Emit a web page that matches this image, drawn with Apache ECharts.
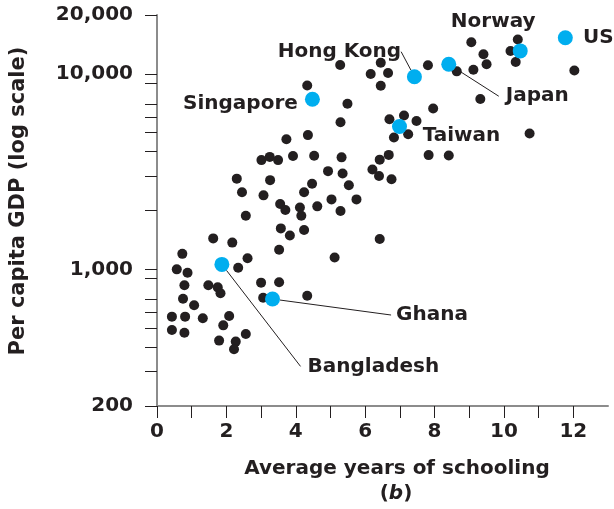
<!DOCTYPE html>
<html>
<head>
<meta charset="utf-8">
<script src="https://cdn.jsdelivr.net/npm/echarts@6/dist/echarts.min.js"></script>
<style>
  html, body { margin: 0; padding: 0; background: #fff; }
  #chart { width: 614px; height: 509px; }
</style>
</head>
<body>
<div id="chart"></div>
<script>
// other countries: years of schooling / per capita GDP
var schoolingOther = [5.28, 6.45, 6.16, 6.66, 6.45, 4.33, 5.49, 5.29, 4.35, 3.73,
  3.01, 3.25, 3.49, 3.92, 4.53, 5.32, 6.42, 6.68, 6.21, 6.40,
  6.76, 4.93, 5.35, 2.30, 3.26, 2.45, 3.07, 4.24, 4.47, 5.53,
  5.03, 5.75, 3.55, 3.70, 4.12, 4.16, 4.62, 5.29, 2.56, 3.57,
  3.83, 4.24, 1.62, 2.17, 3.52, 6.42, 0.73, 2.61, 5.12, 0.57,
  0.88, 2.34, 0.79, 1.48, 1.75, 1.83, 3.00, 3.52, 0.75, 1.07,
  3.06, 4.33, 0.43, 0.81, 1.32, 2.08, 1.91, 0.43, 0.79, 1.79,
  2.27, 2.22, 2.56, 7.81, 7.96, 6.70, 7.12, 7.48, 6.83, 7.24,
  7.83, 8.41, 9.06, 10.40, 10.19, 9.41, 9.50, 10.34, 9.12, 8.64,
  12.03, 9.32, 10.74];
var gdpOther = [11100, 11400, 9980, 10100, 8690, 8720, 7030, 5660, 4860, 4630,
  3620, 3760, 3620, 3800, 3810, 3740, 3640, 3850, 3240, 3000,
  2890, 3180, 3090, 2910, 2860, 2480, 2390, 2480, 2740, 2690,
  2280, 2280, 2160, 2010, 2070, 1880, 2100, 1990, 1880, 1620,
  1490, 1590, 1440, 1370, 1260, 1430, 1200, 1140, 1150, 1000,
  961, 1020, 830, 829, 809, 754, 855, 859, 707, 655,
  716, 733, 573, 573, 562, 577, 517, 490, 474, 432,
  427, 390, 467, 11060, 6650, 5860, 6120, 5740, 4730, 4910,
  3840, 3820, 14500, 15000, 13100, 12600, 11200, 11500, 10500, 10300,
  10400, 7430, 4950];

// highlighted countries
var highlightNames = ['Singapore', 'Hong Kong', 'Japan', 'Norway', 'US', 'Taiwan', 'Bangladesh', 'Ghana'];
var highlightSchooling = [4.48, 7.42, 8.41, 10.47, 11.77, 6.99, 1.87, 3.33];
var highlightGdp = [7410, 9670, 11200, 13100, 15300, 5380, 1060, 705];

// axis ticks
var yLabelValues = [200, 1000, 10000, 20000];
var yTickValues = [200, 300, 400, 500, 600, 700, 900, 1000, 2000, 3000, 4000, 5000, 6000, 7000, 9000, 10000, 20000];

// label placement (offset from point, leader line on/off, padding)
var labelDx = [-72, -75, 85, -27, 33, 62, 148, 157];
var labelDy = [4, -25, 32, -29, 0, 9, 102, 16];
var labelLeader = [false, true, true, false, false, false, true, true];
var labelPad = [[0, 0, 0, 0], [0, 0, 25, 0], [0, 0, 0, 7], [0, 0, 0, 0], [0, 0, 0, 0], [0, 0, 0, 0], [0, 0, 0, 7], [0, 0, 0, 5]];

var FONT = 'DejaVu Sans';
var INK = '#231f20';

var otherData = schoolingOther.map(function (x, i) { return [x, gdpOther[i]]; });
var highlightData = highlightNames.map(function (name, i) {
  return {
    name: name,
    value: [highlightSchooling[i], highlightGdp[i]],
    label: { padding: labelPad[i] },
    labelLine: { show: labelLeader[i] }
  };
});

var chart = echarts.init(document.getElementById('chart'), null, { renderer: 'canvas' });
chart.setOption({
  animation: false,
  grid: { left: 157, right: 6, top: 15, bottom: 103 },
  xAxis: {
    type: 'value',
    min: 0,
    max: 13,
    interval: 1,
    axisLine: { onZero: false, lineStyle: { color: '#8c8c8c', width: 2 } },
    axisTick: { length: 12, lineStyle: { color: INK } },
    axisLabel: {
      margin: 16,
      showMaxLabel: false,
      color: INK,
      fontFamily: FONT,
      fontWeight: 'bold',
      fontSize: 20,
      formatter: function (v) { return (v % 2 === 0 && v < 13) ? String(v) : ''; }
    },
    splitLine: { show: false }
  },
  yAxis: {
    type: 'log',
    logBase: 10,
    min: 200,
    max: 20000,
    axisLine: { onZero: false, lineStyle: { color: '#8c8c8c', width: 2 } },
    axisTick: { length: 12, customValues: yTickValues, lineStyle: { color: INK } },
    axisLabel: {
      margin: 24,
      customValues: yLabelValues,
      color: INK,
      fontFamily: FONT,
      fontWeight: 'bold',
      fontSize: 20,
      formatter: function (v) { return Math.round(v).toLocaleString('en-US'); }
    },
    splitLine: { show: false }
  },
  series: [
    {
      type: 'scatter',
      symbolSize: 10,
      itemStyle: { color: INK, opacity: 1 },
      data: otherData,
      z: 2
    },
    {
      type: 'scatter',
      symbolSize: 15,
      itemStyle: { color: '#00aeef', opacity: 1 },
      data: highlightData,
      z: 3,
      label: {
        show: true,
        position: 'inside',
        formatter: '{b}',
        color: INK,
        fontFamily: FONT,
        fontWeight: 'bold',
        fontSize: 20,
        backgroundColor: 'rgba(255,255,255,0)'
      },
      labelLine: { show: false, lineStyle: { color: INK, width: 1 } },
      labelLayout: function (p) {
        return { dx: labelDx[p.dataIndex], dy: labelDy[p.dataIndex] };
      }
    }
  ],
  graphic: [
    {
      type: 'text', x: 19, y: 201, rotation: Math.PI / 2,
      style: { text: 'Per capita GDP (log scale)', fill: INK, font: 'bold 21px "DejaVu Sans"', align: 'center', verticalAlign: 'middle' }
    },
    {
      type: 'text', x: 397, y: 469,
      style: { text: 'Average years of schooling', fill: INK, font: 'bold 20px "DejaVu Sans"', align: 'center', verticalAlign: 'middle' }
    },
    {
      type: 'text', x: 396, y: 494,
      style: {
        text: '{p|(}{i|b}{p|)}', align: 'center', verticalAlign: 'middle',
        rich: {
          p: { fill: INK, fontFamily: FONT, fontWeight: 'bold', fontSize: 20 },
          i: { fill: INK, fontFamily: FONT, fontWeight: 'bold', fontStyle: 'italic', fontSize: 20 }
        }
      }
    }
  ]
});
</script>
</body>
</html>
